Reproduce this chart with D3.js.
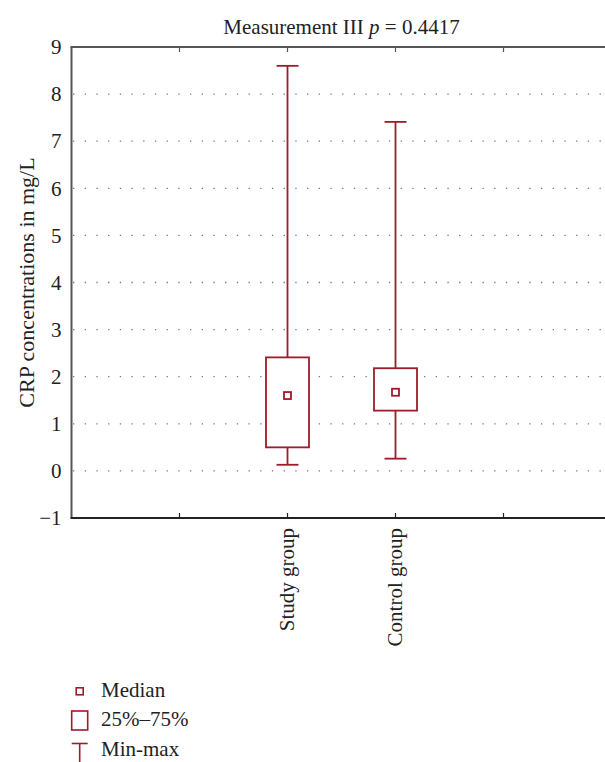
<!DOCTYPE html>
<html>
<head>
<meta charset="utf-8">
<script src="https://cdn.jsdelivr.net/npm/d3@7"></script>
<style>
  html, body { margin: 0; padding: 0; background: #fff; }
  svg { display: block; font-family: "Liberation Serif", "DejaVu Serif", serif; }
</style>
</head>
<body>
<svg id="chart" width="605" height="762"></svg>
<script>
// CRP concentrations, measurement III
const categories = ["Study group", "Control group"];
const minValues = [0.13, 0.26];
const q1Values = [0.50, 1.28];
const medianValues = [1.60, 1.67];
const q3Values = [2.41, 2.18];
const maxValues = [8.60, 7.41];
const yTicks = [-1, 0, 1, 2, 3, 4, 5, 6, 7, 8, 9];
const legendLabels = ["Median", "25%\u201375%", "Min-max"];

const boxColor = "#9e1b2c";
const svg = d3.select("#chart");

const plot = { left: 71.5, right: 611.5, top: 47, bottom: 518 };

// Category slots: the plot spans five slot widths, groups sit in the middle
const x = d3.scaleLinear().domain([-2, 3]).range([plot.left, plot.right]);
const y = d3.scaleLinear().domain([-1, 9]).range([plot.bottom, plot.top]);

// Dotted horizontal grid
svg.append("g").selectAll("line")
  .data(yTicks.filter(t => t > -1 && t < 9))
  .join("line")
  .attr("x1", plot.left + 1.5).attr("x2", 605)
  .attr("y1", d => y(d)).attr("y2", d => y(d))
  .attr("stroke", "#777").attr("stroke-width", 1.3)
  .attr("stroke-dasharray", "1.3,10.4");

// Y axis
const yAxis = svg.append("g")
  .attr("transform", `translate(${plot.left},0)`)
  .call(d3.axisLeft(y).tickValues(yTicks).tickSize(0).tickPadding(10)
    .tickFormat(d => d < 0 ? "\u2212" + Math.abs(d) : d));
yAxis.select(".domain").remove();
yAxis.selectAll("text").attr("font-size", 21).attr("fill", "#222")
  .attr("font-family", "Liberation Serif, serif");

// Frame: left, top, bottom
svg.append("line").attr("x1", plot.left).attr("x2", plot.left)
  .attr("y1", plot.top).attr("y2", plot.bottom)
  .attr("stroke", "#555").attr("stroke-width", 2);
svg.append("line").attr("x1", plot.left - 1).attr("x2", 605)
  .attr("y1", plot.top).attr("y2", plot.top)
  .attr("stroke", "#555").attr("stroke-width", 2.2);
svg.append("line").attr("x1", plot.left - 1).attr("x2", 605)
  .attr("y1", plot.bottom).attr("y2", plot.bottom)
  .attr("stroke", "#222").attr("stroke-width", 2);

// Inward ticks on top and bottom edges
const xTickVals = [-1, 0, 1, 2];
svg.append("g").selectAll("line.tb")
  .data(xTickVals).join("line")
  .attr("x1", d => x(d)).attr("x2", d => x(d))
  .attr("y1", plot.bottom).attr("y2", plot.bottom - 5)
  .attr("stroke", "#222").attr("stroke-width", 1.2);
svg.append("g").selectAll("line.tt")
  .data(xTickVals).join("line")
  .attr("x1", d => x(d)).attr("x2", d => x(d))
  .attr("y1", plot.top).attr("y2", plot.top + 5)
  .attr("stroke", "#555").attr("stroke-width", 1.2);

// Category labels, rotated
svg.append("g").selectAll("text")
  .data(categories).join("text")
  .attr("transform", (d, i) => `translate(${x(i) + 6.5},${plot.bottom + 10}) rotate(-90)`)
  .attr("text-anchor", "end")
  .attr("font-size", 21).attr("fill", "#222")
  .text(d => d);

// Box plots
const boxW = 43, capW = 22, medS = 7;
const groups = svg.append("g").selectAll("g")
  .data(categories).join("g");

groups.append("line")
  .attr("x1", (d, i) => x(i)).attr("x2", (d, i) => x(i))
  .attr("y1", (d, i) => y(maxValues[i])).attr("y2", (d, i) => y(q3Values[i]))
  .attr("stroke", boxColor).attr("stroke-width", 1.8);
groups.append("line")
  .attr("x1", (d, i) => x(i)).attr("x2", (d, i) => x(i))
  .attr("y1", (d, i) => y(q1Values[i])).attr("y2", (d, i) => y(minValues[i]))
  .attr("stroke", boxColor).attr("stroke-width", 1.8);
groups.append("line")
  .attr("x1", (d, i) => x(i) - capW / 2).attr("x2", (d, i) => x(i) + capW / 2)
  .attr("y1", (d, i) => y(maxValues[i])).attr("y2", (d, i) => y(maxValues[i]))
  .attr("stroke", boxColor).attr("stroke-width", 1.8);
groups.append("line")
  .attr("x1", (d, i) => x(i) - capW / 2).attr("x2", (d, i) => x(i) + capW / 2)
  .attr("y1", (d, i) => y(minValues[i])).attr("y2", (d, i) => y(minValues[i]))
  .attr("stroke", boxColor).attr("stroke-width", 1.8);
groups.append("rect")
  .attr("x", (d, i) => x(i) - boxW / 2)
  .attr("y", (d, i) => y(q3Values[i]))
  .attr("width", boxW)
  .attr("height", (d, i) => y(q1Values[i]) - y(q3Values[i]))
  .attr("fill", "#fff").attr("stroke", boxColor).attr("stroke-width", 1.8);
groups.append("rect")
  .attr("x", (d, i) => x(i) - medS / 2)
  .attr("y", (d, i) => y(medianValues[i]) - medS / 2)
  .attr("width", medS).attr("height", medS)
  .attr("fill", "#fff").attr("stroke", boxColor).attr("stroke-width", 1.8);

// Title
const title = svg.append("text")
  .attr("x", (plot.left + plot.right) / 2).attr("y", 34)
  .attr("text-anchor", "middle").attr("font-size", 21).attr("fill", "#222");
title.append("tspan").text("Measurement III ");
title.append("tspan").attr("font-style", "italic").text("p");
title.append("tspan").text(" = 0.4417");

// Y axis title
svg.append("text")
  .attr("transform", `translate(34,${(plot.top + plot.bottom) / 2}) rotate(-90)`)
  .attr("text-anchor", "middle").attr("font-size", 22).attr("fill", "#222")
  .text("CRP concentrations in mg/L");

// Legend
const legend = svg.append("g");
const lx = 79.7;
legend.append("rect").attr("x", lx - 3.5).attr("y", 687.8).attr("width", 7).attr("height", 7)
  .attr("fill", "#fff").attr("stroke", boxColor).attr("stroke-width", 1.6);
legend.append("rect").attr("x", lx - 8).attr("y", 711).attr("width", 16).attr("height", 19)
  .attr("fill", "#fff").attr("stroke", boxColor).attr("stroke-width", 1.6);
legend.append("line").attr("x1", lx - 8).attr("x2", lx + 8).attr("y1", 743.5).attr("y2", 743.5)
  .attr("stroke", boxColor).attr("stroke-width", 1.6);
legend.append("line").attr("x1", lx).attr("x2", lx).attr("y1", 743.5).attr("y2", 762)
  .attr("stroke", boxColor).attr("stroke-width", 1.6);
legend.selectAll("text").data(legendLabels).join("text")
  .attr("x", 101).attr("y", (d, i) => [696.5, 726, 756][i])
  .attr("font-size", 21).attr("fill", "#222")
  .text(d => d);
</script>
</body>
</html>
